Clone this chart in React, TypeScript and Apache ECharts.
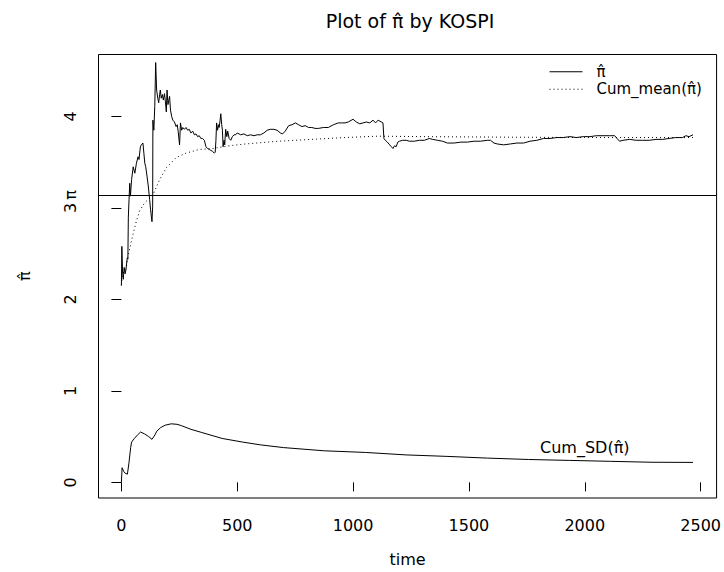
import React, { useEffect, useRef } from "react";
import * as echarts from "echarts";

const TITLE = "Plot of \u03C0\u0302 by KOSPI";
const PI_HAT = "\u03C0\u0302";
const SERIES_MAIN = PI_HAT;
const SERIES_MEAN = "Cum_mean(" + PI_HAT + ")";
const SD_LABEL = "Cum_SD(" + PI_HAT + ")";
const X_NAME = "time";

const xTicks = [0, 500, 1000, 1500, 2000, 2500];
const yTicks = [0, 1, 2, 3, 4];
const PI_LINE = Math.PI;

const piHatTime = [0,2,5,8,12,16,20,25,28,30,33,36,39,44,51,58,65,72,76,82,86,93,97,101,105,111,116,122,126,132,135,136,140,144,148,152,157,161,165,168,172,177,181,186,190,194,197,201,205,208,212,217,222,229,236,241,245,251,255,260,265,272,279,286,293,300,308,315,322,329,336,343,350,358,365,372,379,386,393,401,405,408,411,415,419,422,426,429,433,436,439,443,446,450,455,459,465,472,479,486,493,500,515,529,543,557,572,586,600,615,629,643,658,672,686,696,707,722,736,751,765,779,793,808,822,836,851,872,893,915,936,950,965,979,1000,1014,1029,1043,1057,1072,1086,1097,1108,1122,1129,1133,1139,1148,1158,1165,1172,1179,1186,1193,1200,1214,1229,1243,1265,1286,1308,1329,1343,1365,1386,1407,1436,1465,1493,1522,1550,1579,1593,1608,1622,1650,1679,1707,1736,1764,1793,1822,1850,1879,1907,1936,1964,1993,2022,2050,2079,2107,2129,2139,2150,2165,2193,2222,2250,2279,2307,2336,2364,2393,2422,2436,2450,2467];
const piHatValue = [2.15,2.58,2.30,2.22,2.35,2.28,2.33,2.45,2.44,2.90,3.09,3.27,3.13,3.31,3.45,3.38,3.49,3.56,3.53,3.67,3.69,3.71,3.60,3.49,3.45,3.34,3.24,3.09,2.98,2.85,3.02,3.96,3.85,4.11,4.59,4.29,4.20,4.15,4.24,4.29,4.20,4.24,4.18,4.25,4.16,4.05,4.29,4.13,4.18,4.22,4.07,4.00,3.96,3.94,3.89,3.91,3.84,3.69,3.93,3.85,3.88,3.86,3.88,3.85,3.86,3.82,3.84,3.80,3.81,3.78,3.79,3.76,3.76,3.74,3.67,3.65,3.64,3.63,3.62,3.60,3.61,3.74,3.93,3.85,3.91,3.88,3.96,4.03,3.91,3.85,3.67,3.74,3.69,3.86,3.78,3.84,3.76,3.74,3.78,3.80,3.80,3.82,3.80,3.81,3.79,3.80,3.79,3.80,3.80,3.82,3.85,3.86,3.86,3.85,3.82,3.81,3.84,3.90,3.91,3.93,3.91,3.89,3.90,3.88,3.88,3.87,3.87,3.88,3.88,3.91,3.93,3.93,3.93,3.94,3.97,3.94,3.92,3.93,3.94,3.93,3.96,3.93,3.96,3.94,3.93,3.76,3.74,3.72,3.69,3.67,3.65,3.68,3.67,3.72,3.73,3.74,3.74,3.73,3.73,3.74,3.74,3.76,3.75,3.74,3.73,3.71,3.71,3.72,3.72,3.73,3.73,3.74,3.74,3.71,3.70,3.69,3.70,3.71,3.71,3.73,3.74,3.76,3.76,3.77,3.77,3.78,3.77,3.78,3.78,3.79,3.79,3.79,3.79,3.76,3.73,3.74,3.75,3.74,3.74,3.74,3.75,3.75,3.76,3.77,3.77,3.79,3.78,3.80];

const cumMeanTime = [0,5,10,19,27,44,65,79,101,120,139,165,194,236,279,336,393,465,536,679,822,965,1107,1300,1600,2000,2467];
const cumMeanValue = [2.16,2.28,2.30,2.33,2.45,2.65,2.86,2.97,3.06,3.10,3.16,3.31,3.44,3.55,3.60,3.64,3.65,3.68,3.70,3.73,3.75,3.77,3.785,3.78,3.775,3.77,3.77];

const cumSdTime = [0,3,10,16,26,33,40,44,56,70,83,100,118,132,145,153,170,189,215,240,259,300,347,435,524,600,700,876,1053,1229,1405,1581,1758,1934,2110,2286,2467];
const cumSdValue = [0,0.16,0.12,0.10,0.09,0.22,0.38,0.44,0.48,0.52,0.55,0.53,0.50,0.47,0.52,0.56,0.60,0.625,0.64,0.635,0.62,0.58,0.545,0.48,0.44,0.41,0.38,0.345,0.327,0.30,0.284,0.265,0.25,0.24,0.23,0.22,0.218];

const sdLabelPos = [2000, 0.38];

const zip = (a: number[], b: number[]) => a.map((v, i) => [v, b[i]]);

const FONT = "DejaVu Sans";

export default function App() {
  const ref = useRef<HTMLDivElement>(null);
  useEffect(() => {
    if (!ref.current) return;
    const chart = echarts.init(ref.current, undefined, { renderer: "svg" });
    const xMinData = 0, xMaxData = 2470;
    const xExt = (xMaxData - xMinData) * 0.04;
    chart.setOption({
      animation: false,
      backgroundColor: "#fff",
      textStyle: { fontFamily: FONT, color: "#000" },
      title: {
        text: TITLE,
        left: 410,
        top: 11,
        padding: 0,
        textAlign: "center",
        textStyle: { fontFamily: FONT, fontSize: 19, fontWeight: "normal", color: "#000" },
      },
      legend: {
        orient: "vertical",
        left: 549,
        top: 63,
        itemWidth: 33,
        itemHeight: 10,
        itemGap: 0,
        padding: 0,
        itemStyle: { opacity: 0 },
        lineStyle: { opacity: 1, width: 1 },
        data: [{ name: SERIES_MAIN }, { name: SERIES_MEAN }],
        textStyle: { fontFamily: FONT, fontSize: 15, lineHeight: 17.5, color: "#000", padding: [0, 0, 0, 9] },
      },
      grid: {
        left: 98.5,
        right: 2.5,
        top: 54.5,
        bottom: 73,
        show: true,
        borderColor: "#000",
        borderWidth: 1,
        backgroundColor: "transparent",
      },
      xAxis: {
        type: "value",
        min: xMinData - xExt,
        max: xMaxData + xExt,
        name: X_NAME,
        nameLocation: "middle",
        nameGap: 53,
        nameTextStyle: { fontFamily: FONT, fontSize: 16, color: "#000" },
        axisLine: { show: false },
        splitLine: { show: false },
        axisTick: { show: true, inside: false, length: 9, customValues: xTicks, lineStyle: { color: "#000", width: 1 } },
        axisLabel: {
          customValues: xTicks,
          margin: 19,
          fontFamily: FONT,
          fontSize: 16,
          color: "#000",
          formatter: (v: number) => String(v),
        },
      },
      yAxis: {
        type: "value",
        min: -0.171,
        max: 4.678,
        name: PI_HAT,
        nameLocation: "middle",
        nameGap: 66,
        nameRotate: 90,
        nameTextStyle: { fontFamily: FONT, fontSize: 16, color: "#000" },
        axisLine: { show: false },
        splitLine: { show: false },
        axisTick: { show: true, inside: false, length: 10, customValues: [...yTicks, PI_LINE], lineStyle: { color: "#000", width: 1 } },
        axisLabel: {
          customValues: [...yTicks, PI_LINE],
          rotate: 90,
          margin: 20,
          fontFamily: FONT,
          fontSize: 16,
          color: "#000",
          formatter: (v: number) => (Math.abs(v - PI_LINE) < 1e-9 ? "\u03C0" : String(v)),
        },
      },
      series: [
        {
          name: SERIES_MAIN,
          type: "line",
          data: zip(piHatTime, piHatValue),
          symbol: "none",
          showSymbol: false,
          lineStyle: { color: "#000", width: 1 },
          itemStyle: { color: "#000" },
          silent: true,
          markLine: {
            silent: true,
            symbol: ["none", "none"],
            label: { show: false },
            lineStyle: { color: "#000", width: 1, type: "solid" },
            data: [{ yAxis: PI_LINE }],
          },
        },
        {
          name: SERIES_MEAN,
          type: "line",
          data: zip(cumMeanTime, cumMeanValue),
          symbol: "none",
          showSymbol: false,
          lineStyle: { color: "#000", width: 1, type: [1, 3] },
          itemStyle: { color: "#000" },
          silent: true,
        },
        {
          name: SD_LABEL,
          type: "line",
          data: zip(cumSdTime, cumSdValue),
          symbol: "none",
          showSymbol: false,
          lineStyle: { color: "#000", width: 1 },
          itemStyle: { color: "#000" },
          silent: true,
        },
        {
          name: "sdLabel",
          type: "scatter",
          data: [sdLabelPos],
          symbolSize: 1,
          itemStyle: { color: "rgba(0,0,0,0)" },
          silent: true,
          label: {
            show: true,
            position: "inside",
            formatter: () => SD_LABEL,
            fontFamily: FONT,
            fontSize: 16,
            color: "#000",
            textBorderWidth: 0,
            opacity: 1,
          },
        },
      ],
    });
    return () => chart.dispose();
  }, []);
  return (
    <div
      ref={ref}
      style={{ position: "absolute", left: 0, top: 0, width: 724, height: 572 }}
    />
  );
}
